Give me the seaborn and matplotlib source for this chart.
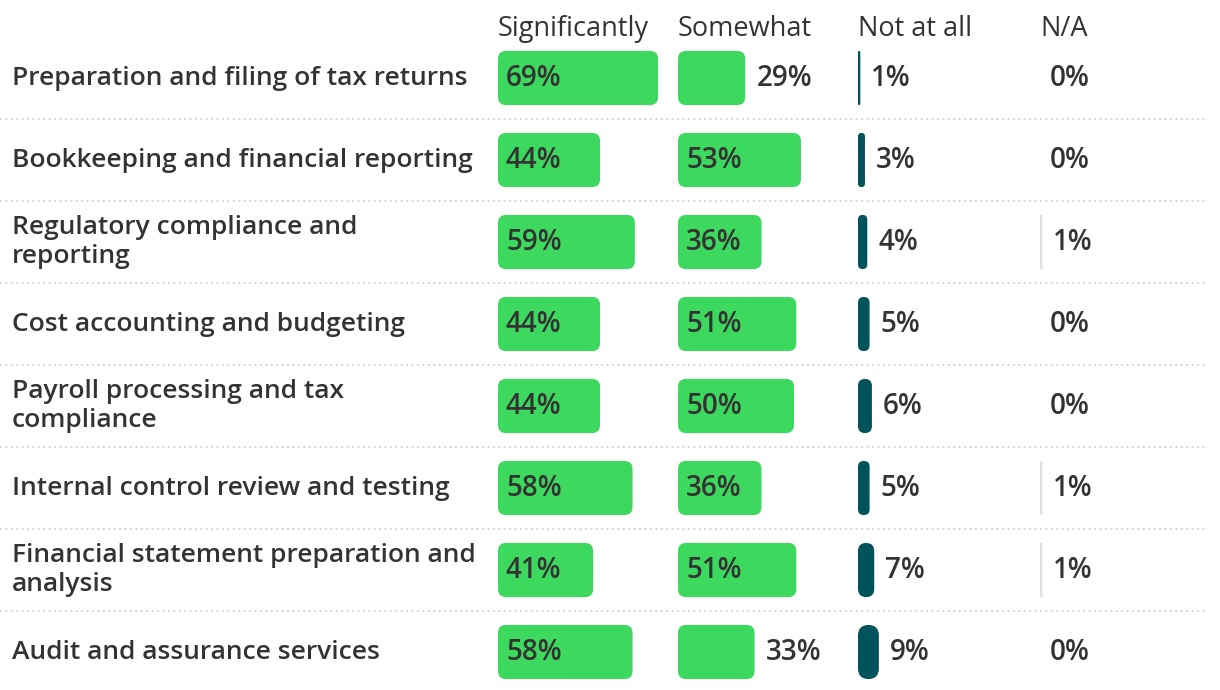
import pandas as pd
import seaborn as sns
import matplotlib.pyplot as plt
from matplotlib.patches import FancyBboxPatch

services = [
    "Preparation and filing of tax returns",
    "Bookkeeping and financial reporting",
    "Regulatory compliance and\nreporting",
    "Cost accounting and budgeting",
    "Payroll processing and tax\ncompliance",
    "Internal control review and testing",
    "Financial statement preparation and\nanalysis",
    "Audit and assurance services",
]
significantly = [69, 44, 59, 44, 44, 58, 41, 58]
somewhat = [29, 53, 36, 51, 50, 36, 51, 33]
not_at_all = [1, 3, 4, 5, 6, 5, 7, 9]
not_applicable = [0, 0, 1, 0, 0, 1, 1, 0]
columns = ["Significantly", "Somewhat", "Not at all", "N/A"]

sns.set_theme(style="white")
plt.rcParams["font.family"] = ["Open Sans", "DejaVu Sans"]

W, H = 1220, 690
fig = plt.figure(figsize=(W / 100, H / 100), dpi=100)
fig.patch.set_facecolor("white")

# vertical layout in pixels (row centres)
row0, row_step = 78.0, 82.0
y_lo, y_hi = -0.4, 7.4
top_px = row0 + y_lo * row_step
bot_px = row0 + y_hi * row_step
ax_bottom = 1 - bot_px / H
ax_height = (bot_px - top_px) / H

px_per_pct = 2.32
col_x = [498, 678, 858, 1040]
colors = ["#3dd95f", "#3dd95f", "#00535a", "#e2e2dd"]
text_color = "#333333"

# background axes: separators and row labels
bg = fig.add_axes([0, ax_bottom, 1, ax_height])
bg.set_xlim(0, W)
bg.set_ylim(y_hi, y_lo)
bg.axis("off")
for i in range(len(services) - 1):
    bg.plot([0, 1208], [i + 0.5, i + 0.5], ls=(0, (1, 2)), color="#cfcfcf", lw=1.3)
for i, s in enumerate(services):
    bg.text(12, i, s, va="center", ha="left", fontsize=19, weight="semibold",
            color=text_color, linespacing=1.25)

for j, col in enumerate(columns):
    fig.text(col_x[j] / W, 1 - 29 / H, col, ha="left", va="center",
             fontsize=19.5, color=text_color)

df = pd.DataFrame({
    "service": services,
    "Significantly": significantly,
    "Somewhat": somewhat,
    "Not at all": not_at_all,
    "N/A": not_applicable,
})
long = df.melt(id_vars="service", var_name="response", value_name="pct")

x_unit = 1 / px_per_pct          # pct per pixel
y_unit = 1 / row_step            # category units per pixel
aspect = y_unit / x_unit

for j, col in enumerate(columns):
    ax = fig.add_axes([col_x[j] / W, ax_bottom, 100 * px_per_pct / W, ax_height])
    ax.patch.set_alpha(0)
    sub = long[long.response == col]
    sns.barplot(data=sub, x="pct", y="service", orient="h", color=colors[j],
                saturation=1, width=0.66, ax=ax)
    ax.set_xlim(0, 100)
    ax.set_ylim(y_hi, y_lo)
    ax.axis("off")

    bars = list(ax.patches)
    for p, v in zip(bars, sub["pct"]):
        x0, y0, w, h = p.get_x(), p.get_y(), p.get_width(), p.get_height()
        p.remove()
        if v > 0:
            w_px = w / x_unit
            h_px = h / y_unit
            radius = 8 if j < 2 else w_px / 2
            if j == 3:
                radius = 0
            radius = min(radius, w_px / 2, h_px / 2)
            box = FancyBboxPatch((x0, y0), w, h,
                                 boxstyle=f"round,pad=0,rounding_size={radius * x_unit}",
                                 mutation_aspect=aspect, facecolor=colors[j],
                                 edgecolor="none", clip_on=False)
            ax.add_patch(box)
        yc = y0 + h / 2
        if j < 2 and v >= 35:
            tx = x0 + 8 * x_unit
        else:
            tx = x0 + w + (11 if v > 0 else 10) * x_unit
        ax.text(tx, yc, f"{v}%", ha="left", va="center", fontsize=20,
                weight="semibold", color=text_color, clip_on=False)

fig.savefig("out.png", dpi=100, facecolor="white")
